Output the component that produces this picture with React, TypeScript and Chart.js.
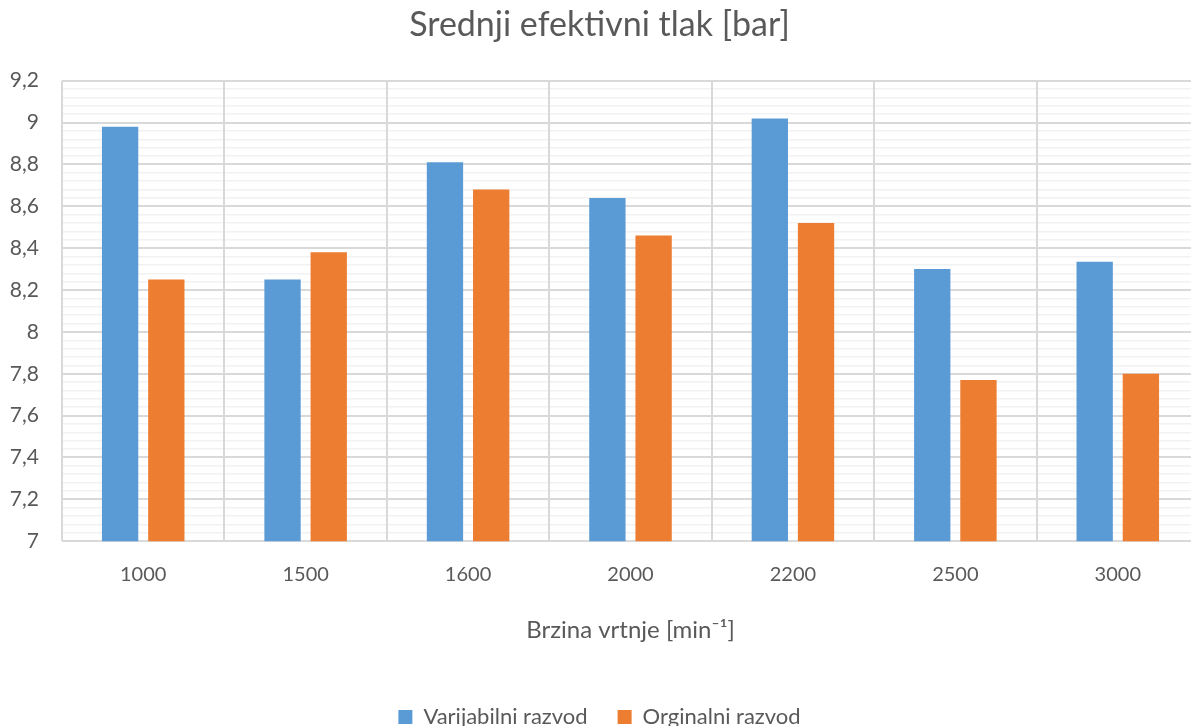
import React, { useEffect, useRef } from "react";
import { Chart, registerables } from "chart.js";

Chart.register(...registerables);

const categories = ["1000", "1500", "1600", "2000", "2200", "2500", "3000"];
const variabilniValues = [8.98, 8.25, 8.81, 8.64, 9.02, 8.3, 8.335];
const orginalniValues = [8.25, 8.38, 8.68, 8.46, 8.52, 7.77, 7.8];
const seriesNames = ["Varijabilni razvod", "Orginalni razvod"];
const chartTitle = "Srednji efektivni tlak [bar]";
const xAxisTitle = "Brzina vrtnje [min\u207B\u00B9]";
const yMin = 7;
const yMax = 9.2;
const majorStep = 0.2;
const minorStep = 0.04;

const FONT = "Lato";
const TEXT = "#595959";

const isMajor = (v: number) => Math.abs(v / majorStep - Math.round(v / majorStep)) < 1e-6;

export default function App() {
  const ref = useRef<HTMLCanvasElement | null>(null);

  useEffect(() => {
    if (!ref.current) return;
    Chart.defaults.font.family = FONT;
    Chart.defaults.color = TEXT;
    const chart = new Chart(ref.current, {
      type: "bar",
      data: {
        labels: categories,
        datasets: [
          {
            label: seriesNames[0],
            data: variabilniValues,
            backgroundColor: "#5B9BD5",
            borderWidth: 0,
            categoryPercentage: 0.569,
            barPercentage: 0.786,
          },
          {
            label: seriesNames[1],
            data: orginalniValues,
            backgroundColor: "#ED7D31",
            borderWidth: 0,
            categoryPercentage: 0.569,
            barPercentage: 0.786,
          },
        ],
      },
      options: {
        responsive: false,
        animation: false,
        devicePixelRatio: 1,
        layout: { padding: { left: 0, right: 1, top: 0, bottom: 0 } },
        plugins: {
          title: {
            display: true,
            text: chartTitle,
            color: TEXT,
            font: { family: FONT, size: 34, weight: "normal" },
            padding: { top: 4.6, bottom: 35.3 },
          },
          legend: {
            position: "bottom",
            labels: {
              boxWidth: 14,
              boxHeight: 14,
              color: TEXT,
              font: { family: FONT, size: 22 },
              padding: 30,
            },
          },
          tooltip: { enabled: false },
        },
        scales: {
          x: {
            grid: { z: -1, color: "#D9D9D9", lineWidth: 2, drawTicks: false, offset: true },
            border: { display: false },
            ticks: { color: TEXT, font: { family: FONT, size: 20 }, padding: 21 },
            title: {
              display: true,
              text: xAxisTitle,
              color: TEXT,
              font: { family: FONT, size: 24 },
              padding: { top: 8.4, bottom: 31.6 },
            },
          },
          y: {
            min: yMin,
            max: yMax,
            afterFit: (scale: any) => {
              scale.width = 62;
            },
            ticks: {
              stepSize: minorStep,
              autoSkip: false,
              color: TEXT,
              font: { family: FONT, size: 21 },
              padding: 23,
              callback: (value: any) => {
                const v = Number(value);
                if (!isMajor(v)) return "";
                const r = Math.round(v * 10) / 10;
                return String(r).replace(".", ",");
              },
            },
            grid: {
              z: -2,
              drawTicks: false,
              color: (ctx: any) => (ctx.tick && isMajor(ctx.tick.value) ? "#D9D9D9" : "#F2F2F2"),
              lineWidth: (ctx: any) => (ctx.tick && isMajor(ctx.tick.value) ? 2 : 1.5),
            },
            border: { display: false },
          },
        },
      },
    });
    return () => chart.destroy();
  }, []);

  return (
    <div
      style={{
        position: "absolute",
        left: 0,
        top: 0,
        width: 1191,
        height: 726,
        overflow: "hidden",
        background: "#ffffff",
      }}
    >
      <canvas ref={ref} width={1200} height={738} style={{ display: "block", width: 1200, height: 738 }} />
    </div>
  );
}
